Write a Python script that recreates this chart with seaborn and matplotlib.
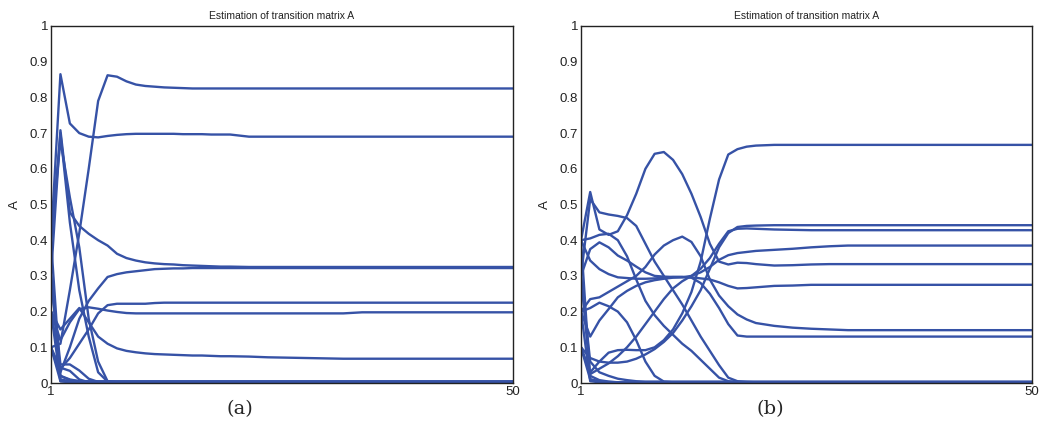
import pandas as pd
import matplotlib
matplotlib.use("Agg")
import matplotlib.pyplot as plt
import seaborn as sns

# iterations at which values were read (lines are straight between them)
iters = [1, 2, 3, 4, 5, 6, 7, 8, 9, 10, 11, 12, 13, 14, 15, 16, 17, 18, 19, 20,
         22, 24, 26, 28, 30, 32, 34, 40, 45, 50]

# ---- panel (a): 16 entries of A ----
a_lines = [
    [0.10, 0.11, 0.26, 0.42, 0.60, 0.79, 0.862, 0.858, 0.845, 0.836, 0.832, 0.830, 0.828, 0.827, 0.826, 0.825, 0.825, 0.825, 0.825, 0.825,
     0.825, 0.825, 0.825, 0.825, 0.825, 0.825, 0.825, 0.825, 0.825, 0.825],
    [0.40, 0.865, 0.727, 0.700, 0.690, 0.688, 0.692, 0.695, 0.697, 0.698, 0.698, 0.698, 0.698, 0.698, 0.697, 0.697, 0.697, 0.696, 0.696, 0.696,
     0.690, 0.690, 0.690, 0.690, 0.690, 0.690, 0.690, 0.690, 0.690, 0.690],
    [0.30, 0.708, 0.478, 0.440, 0.418, 0.400, 0.385, 0.362, 0.350, 0.343, 0.338, 0.335, 0.333, 0.332, 0.330, 0.329, 0.328, 0.327, 0.326, 0.326,
     0.325, 0.325, 0.325, 0.325, 0.325, 0.325, 0.325, 0.325, 0.325, 0.325],
    [0.40, 0.680, 0.520, 0.380, 0.180, 0.060, 0.005, 0.002, 0.001, 0.001, 0.001, 0.001, 0.001, 0.001, 0.001, 0.001, 0.001, 0.001, 0.001, 0.001,
     0.001, 0.001, 0.001, 0.001, 0.001, 0.001, 0.001, 0.001, 0.001, 0.001],
    [0.30, 0.030, 0.100, 0.180, 0.230, 0.265, 0.297, 0.305, 0.310, 0.313, 0.316, 0.319, 0.320, 0.321, 0.321, 0.322, 0.322, 0.322, 0.322, 0.322,
     0.322, 0.322, 0.322, 0.322, 0.322, 0.322, 0.322, 0.322, 0.322, 0.322],
    [0.10, 0.040, 0.070, 0.110, 0.150, 0.195, 0.218, 0.222, 0.222, 0.222, 0.222, 0.224, 0.225, 0.225, 0.225, 0.225, 0.225, 0.225, 0.225, 0.225,
     0.225, 0.225, 0.225, 0.225, 0.225, 0.225, 0.225, 0.225, 0.225, 0.225],
    [0.20, 0.120, 0.170, 0.207, 0.212, 0.208, 0.203, 0.199, 0.196, 0.195, 0.195, 0.195, 0.195, 0.195, 0.195, 0.195, 0.195, 0.195, 0.195, 0.195,
     0.195, 0.195, 0.195, 0.195, 0.195, 0.195, 0.198, 0.198, 0.198, 0.198],
    [0.20, 0.150, 0.180, 0.210, 0.170, 0.130, 0.110, 0.097, 0.090, 0.086, 0.083, 0.081, 0.080, 0.079, 0.078, 0.077, 0.077, 0.076, 0.075, 0.075,
     0.074, 0.072, 0.071, 0.070, 0.069, 0.068, 0.068, 0.068, 0.068, 0.068],
    [0.40, 0.700, 0.450, 0.260, 0.130, 0.030, 0.004, 0.001, 0.001, 0.001, 0.001, 0.001, 0.001, 0.001, 0.001, 0.001, 0.001, 0.001, 0.001, 0.001,
     0.001, 0.001, 0.001, 0.001, 0.001, 0.001, 0.001, 0.001, 0.001, 0.001],
    [0.40, 0.010, 0.005, 0.003, 0.002, 0.001, 0.001, 0.001, 0.001, 0.001, 0.001, 0.001, 0.001, 0.001, 0.001, 0.001, 0.001, 0.001, 0.001, 0.001,
     0.000, 0.000, 0.000, 0.000, 0.000, 0.000, 0.000, 0.000, 0.000, 0.000],
    [0.30, 0.052, 0.052, 0.035, 0.012, 0.003, 0.001, 0.001, 0.001, 0.001, 0.001, 0.001, 0.001, 0.001, 0.001, 0.001, 0.001, 0.001, 0.001, 0.001,
     0.001, 0.001, 0.001, 0.001, 0.001, 0.001, 0.001, 0.001, 0.001, 0.001],
    [0.20, 0.043, 0.034, 0.010, 0.002, 0.001, 0.001, 0.001, 0.001, 0.001, 0.001, 0.001, 0.001, 0.001, 0.001, 0.001, 0.001, 0.001, 0.001, 0.001,
     0.000, 0.000, 0.000, 0.000, 0.000, 0.000, 0.000, 0.000, 0.000, 0.000],
    [0.20, 0.005, 0.002, 0.001, 0.001, 0.001, 0.001, 0.001, 0.001, 0.001, 0.001, 0.001, 0.001, 0.001, 0.001, 0.001, 0.001, 0.001, 0.001, 0.001,
     0.001, 0.001, 0.001, 0.001, 0.001, 0.001, 0.001, 0.001, 0.001, 0.001],
    [0.10, 0.020, 0.010, 0.005, 0.002, 0.001, 0.001, 0.001, 0.001, 0.001, 0.001, 0.001, 0.001, 0.001, 0.001, 0.001, 0.001, 0.001, 0.001, 0.001,
     0.000, 0.000, 0.000, 0.000, 0.000, 0.000, 0.000, 0.000, 0.000, 0.000],
    [0.10, 0.005, 0.003, 0.002, 0.001, 0.001, 0.001, 0.001, 0.001, 0.001, 0.001, 0.001, 0.001, 0.001, 0.001, 0.001, 0.001, 0.001, 0.001, 0.001,
     0.001, 0.001, 0.001, 0.001, 0.001, 0.001, 0.001, 0.001, 0.001, 0.001],
    [0.30, 0.020, 0.008, 0.005, 0.005, 0.005, 0.005, 0.005, 0.005, 0.005, 0.005, 0.005, 0.005, 0.005, 0.005, 0.005, 0.005, 0.005, 0.005, 0.005,
     0.005, 0.005, 0.005, 0.005, 0.005, 0.005, 0.005, 0.005, 0.005, 0.005],
]

# ---- panel (b): 16 entries of A ----
b_lines = [
    [0.40, 0.535, 0.430, 0.415, 0.425, 0.470, 0.530, 0.600, 0.642, 0.647, 0.625, 0.585, 0.530, 0.465, 0.390, 0.340, 0.332, 0.337, 0.336, 0.333,
     0.329, 0.330, 0.332, 0.333, 0.333, 0.333, 0.333, 0.333, 0.333, 0.333],
    [0.30, 0.515, 0.478, 0.472, 0.468, 0.462, 0.440, 0.390, 0.340, 0.300, 0.260, 0.220, 0.175, 0.130, 0.090, 0.050, 0.015, 0.005, 0.003, 0.002,
     0.002, 0.002, 0.002, 0.002, 0.002, 0.002, 0.002, 0.002, 0.002, 0.002],
    [0.40, 0.405, 0.415, 0.418, 0.400, 0.355, 0.290, 0.230, 0.190, 0.160, 0.135, 0.110, 0.090, 0.065, 0.040, 0.015, 0.005, 0.002, 0.001, 0.001,
     0.001, 0.001, 0.001, 0.001, 0.001, 0.001, 0.001, 0.001, 0.001, 0.001],
    [0.20, 0.210, 0.225, 0.215, 0.200, 0.170, 0.120, 0.060, 0.020, 0.004, 0.002, 0.001, 0.001, 0.001, 0.001, 0.001, 0.001, 0.001, 0.001, 0.001,
     0.001, 0.001, 0.001, 0.001, 0.001, 0.001, 0.001, 0.001, 0.001, 0.001],
    [0.40, 0.343, 0.319, 0.305, 0.296, 0.294, 0.292, 0.292, 0.293, 0.295, 0.297, 0.297, 0.296, 0.293, 0.290, 0.282, 0.272, 0.265, 0.266, 0.268,
     0.272, 0.273, 0.275, 0.275, 0.275, 0.275, 0.275, 0.275, 0.275, 0.275],
    [0.30, 0.375, 0.394, 0.380, 0.357, 0.343, 0.326, 0.310, 0.300, 0.298, 0.297, 0.297, 0.295, 0.280, 0.250, 0.210, 0.165, 0.133, 0.130, 0.130,
     0.130, 0.130, 0.130, 0.130, 0.130, 0.130, 0.130, 0.130, 0.130, 0.130],
    [0.20, 0.130, 0.175, 0.207, 0.240, 0.258, 0.272, 0.282, 0.288, 0.292, 0.295, 0.296, 0.300, 0.310, 0.325, 0.345, 0.358, 0.364, 0.367, 0.370,
     0.373, 0.376, 0.380, 0.383, 0.385, 0.385, 0.385, 0.385, 0.385, 0.385],
    [0.20, 0.235, 0.240, 0.255, 0.270, 0.285, 0.300, 0.325, 0.360, 0.385, 0.400, 0.410, 0.395, 0.355, 0.290, 0.245, 0.215, 0.192, 0.178, 0.168,
     0.160, 0.155, 0.152, 0.150, 0.148, 0.148, 0.148, 0.148, 0.148, 0.148],
    [0.10, 0.030, 0.060, 0.085, 0.092, 0.093, 0.092, 0.092, 0.100, 0.120, 0.150, 0.195, 0.255, 0.340, 0.460, 0.570, 0.640, 0.655, 0.662, 0.665,
     0.667, 0.667, 0.667, 0.667, 0.667, 0.667, 0.667, 0.667, 0.667, 0.667],
    [0.10, 0.070, 0.060, 0.057, 0.057, 0.060, 0.068, 0.080, 0.095, 0.115, 0.140, 0.175, 0.215, 0.260, 0.320, 0.380, 0.420, 0.437, 0.440, 0.441,
     0.442, 0.442, 0.442, 0.442, 0.442, 0.442, 0.442, 0.442, 0.442, 0.442],
    [0.10, 0.025, 0.040, 0.055, 0.075, 0.100, 0.130, 0.165, 0.200, 0.235, 0.265, 0.285, 0.300, 0.320, 0.350, 0.390, 0.425, 0.432, 0.433, 0.432,
     0.430, 0.429, 0.428, 0.428, 0.428, 0.428, 0.428, 0.428, 0.428, 0.428],
    [0.40, 0.010, 0.004, 0.002, 0.001, 0.001, 0.001, 0.001, 0.001, 0.001, 0.001, 0.001, 0.001, 0.001, 0.001, 0.001, 0.001, 0.001, 0.001, 0.001,
     0.001, 0.001, 0.001, 0.001, 0.001, 0.001, 0.001, 0.001, 0.001, 0.001],
    [0.30, 0.020, 0.008, 0.004, 0.002, 0.001, 0.001, 0.001, 0.001, 0.001, 0.001, 0.001, 0.001, 0.001, 0.001, 0.001, 0.001, 0.001, 0.001, 0.001,
     0.000, 0.000, 0.000, 0.000, 0.000, 0.000, 0.000, 0.000, 0.000, 0.000],
    [0.20, 0.005, 0.002, 0.001, 0.001, 0.001, 0.001, 0.001, 0.001, 0.001, 0.001, 0.001, 0.001, 0.001, 0.001, 0.001, 0.001, 0.001, 0.001, 0.001,
     0.001, 0.001, 0.001, 0.001, 0.001, 0.001, 0.001, 0.001, 0.001, 0.001],
    [0.10, 0.010, 0.005, 0.003, 0.002, 0.001, 0.001, 0.001, 0.001, 0.001, 0.001, 0.001, 0.001, 0.001, 0.001, 0.001, 0.001, 0.001, 0.001, 0.001,
     0.000, 0.000, 0.000, 0.000, 0.000, 0.000, 0.000, 0.000, 0.000, 0.000],
    [0.30, 0.060, 0.030, 0.020, 0.012, 0.008, 0.005, 0.004, 0.004, 0.004, 0.004, 0.004, 0.004, 0.004, 0.004, 0.004, 0.004, 0.004, 0.004, 0.004,
     0.004, 0.004, 0.004, 0.004, 0.004, 0.004, 0.004, 0.004, 0.004, 0.004],
]

panel_labels = ["(a)", "(b)"]
title = "Estimation of transition matrix A"
ytick_vals = [0, 0.1, 0.2, 0.3, 0.4, 0.5, 0.6, 0.7, 0.8, 0.9, 1]
ytick_labels = ["0", "0.1", "0.2", "0.3", "0.4", "0.5", "0.6", "0.7", "0.8", "0.9", "1"]

blue = "#3652a6"

sns.set_style("white")
plt.rcParams["font.family"] = ["Liberation Sans", "DejaVu Sans"]


def to_frame(lines):
    rows = []
    for k, vals in enumerate(lines):
        for it, v in zip(iters, vals):
            rows.append((k, it, v))
    return pd.DataFrame(rows, columns=["entry", "iteration", "A"])


fig = plt.figure(figsize=(10.48, 4.34), dpi=100)
ax_a = fig.add_axes([51 / 1048, 51 / 434, 462 / 1048, 357 / 434])
ax_b = fig.add_axes([581 / 1048, 51 / 434, 451 / 1048, 357 / 434])

for ax, lines in [(ax_a, a_lines), (ax_b, b_lines)]:
    df = to_frame(lines)
    sns.lineplot(data=df, x="iteration", y="A", units="entry", estimator=None,
                 color=blue, linewidth=1.7, ax=ax, legend=False)
    ax.set_xlim(1, 50)
    ax.set_ylim(0, 1)
    ax.set_xticks([1, 50])
    ax.set_xticklabels(["1", "50"])
    ax.set_yticks(ytick_vals)
    ax.set_yticklabels(ytick_labels)
    ax.tick_params(direction="in", length=3, width=0.8, labelsize=9.5, pad=2, colors="#222222")
    for s in ax.spines.values():
        s.set_visible(True)
        s.set_color("#222222")
        s.set_linewidth(1.0)
    ax.set_xlabel("")
    ax.set_ylabel("A", fontsize=9.5, labelpad=6, color="#222222")
    ax.set_title(title, fontsize=7.5, pad=5, color="#222222")

# sub-figure captions under the panels
fig.text(240 / 1048, 1 - 400 / 434, panel_labels[0], ha="center", va="top",
         fontsize=14, family="DejaVu Serif")
fig.text(770 / 1048, 1 - 400 / 434, panel_labels[1], ha="center", va="top",
         fontsize=14, family="DejaVu Serif")

fig.savefig("out.png", dpi=100)
